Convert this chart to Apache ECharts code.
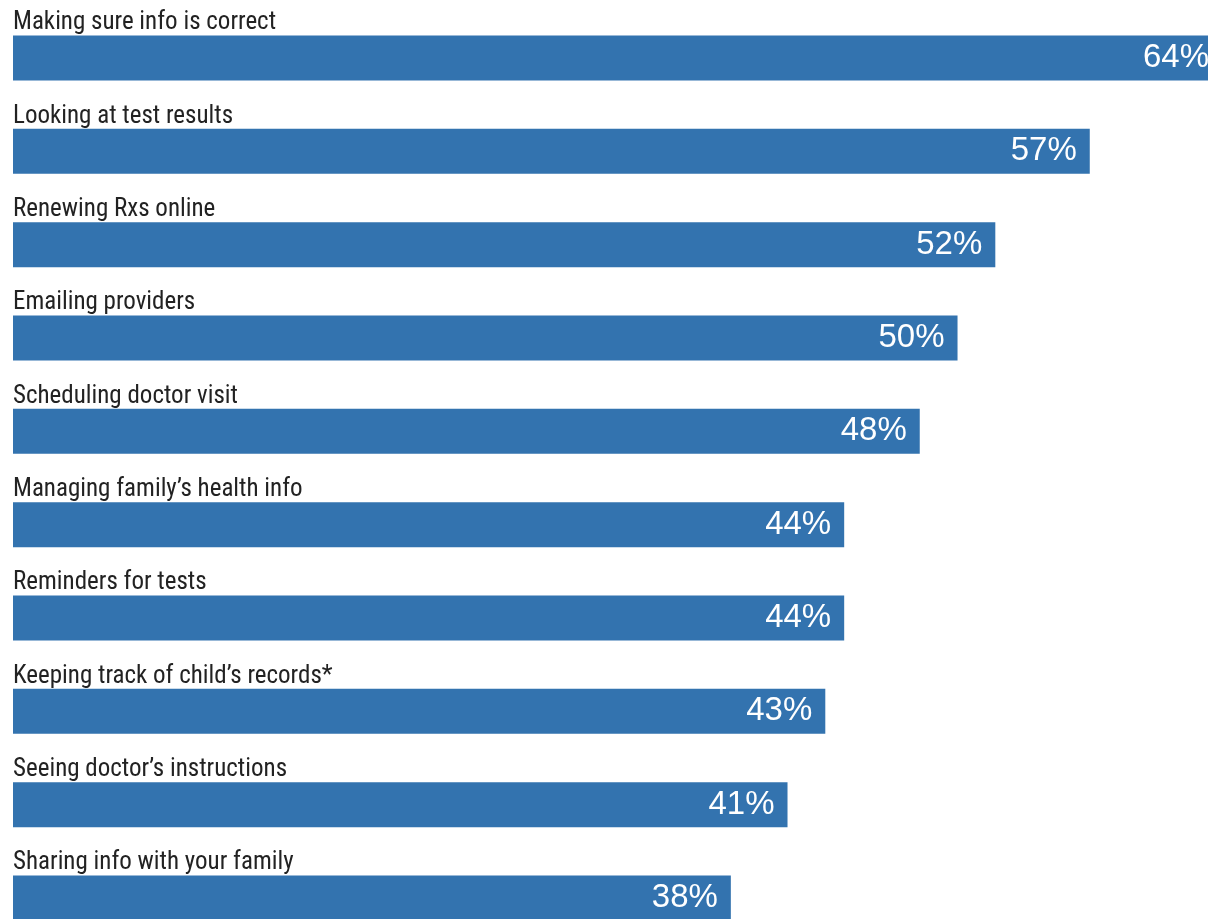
<!DOCTYPE html>
<html>
<head>
<meta charset="utf-8">
<script src="https://cdn.jsdelivr.net/npm/echarts@6/dist/echarts.min.js"></script>
<style>
html,body{margin:0;padding:0;background:#fff;overflow:hidden;}
#chart{width:1240px;height:960px;}
</style>
</head>
<body>
<div id="chart"></div>
<script>
const categories = [
  "Making sure info is correct",
  "Looking at test results",
  "Renewing Rxs online",
  "Emailing providers",
  "Scheduling doctor visit",
  "Managing family\u2019s health info",
  "Reminders for tests",
  "Keeping track of child\u2019s records*",
  "Seeing doctor\u2019s instructions",
  "Sharing info with your family"
];
const values = [64, 57, 52, 50, 48, 44, 44, 43, 41, 38];

const chart = echarts.init(document.getElementById('chart'), null, {renderer: 'canvas'});
chart.setOption({
  animation: false,
  backgroundColor: '#ffffff',
  grid: {left: 13, right: 18, top: 11.33, bottom: 15.33, containLabel: false},
  xAxis: {
    type: 'value', min: 0, max: 64,
    show: false
  },
  yAxis: {
    type: 'category',
    inverse: true,
    data: categories,
    axisLine: {show: false},
    axisTick: {show: false},
    splitLine: {show: false},
    axisLabel: {
      inside: true,
      margin: 0,
      align: 'left',
      verticalAlign: 'bottom',
      lineHeight: 26,
      padding: [0, 0, 22, 0],
      fontFamily: '"Roboto Condensed", "Liberation Sans Narrow", "DejaVu Sans Condensed", Roboto, sans-serif',
      fontSize: 25,
      color: '#222222'
    },
    z: 10
  },
  series: [{
    type: 'bar',
    data: values,
    barWidth: 45,
    itemStyle: {color: '#3373AF'},
    label: {
      show: true,
      position: 'insideRight',
      distance: 13,
      formatter: '{c}%',
      color: '#ffffff',
      fontFamily: '"Liberation Sans", Arial, sans-serif',
      fontSize: 33
    }
  }]
});
</script>
</body>
</html>
